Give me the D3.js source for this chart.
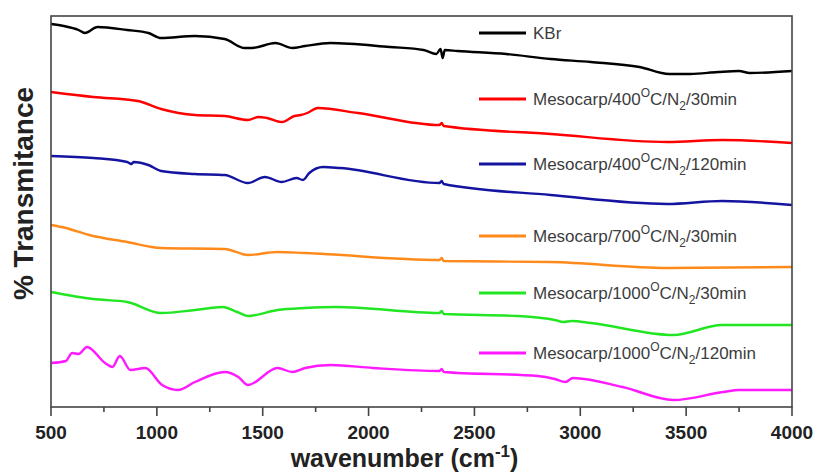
<!DOCTYPE html>
<html lang="en">
<head>
    <meta charset="UTF-8">
    <style>
        body { margin: 0; background: #fff; }
        #chart { width: 818px; height: 473px; }
        .tick-label { font-family: "Liberation Sans", Arial, sans-serif; font-weight: bold; font-size: 19px; fill: #222; }
        .axis-title { font-family: "Liberation Sans", Arial, sans-serif; font-weight: bold; fill: #222; }
        .legend-text { font-family: "Liberation Sans", Arial, sans-serif; font-size: 17px; fill: #3c3c3c; }
    </style>
    <script src="https://d3js.org/d3.v7.min.js"></script>
</head>
<body>
    <div id="chart"></div>

    <script>
        // FTIR spectra, [wavenumber, transmittance (a.u., stacked)]
        var kbr = [[500,383],[560,381],[630,377],[660,374],[720,380],[860,377],[960,374],[1020,369],[1180,371],[1320,368],[1415,359],[1450,359],[1560,364],[1640,359],[1700,361],[1820,364],[2100,360],[2260,357],[2320,353],[2340,358],[2350,349],[2360,357],[2420,356],[2650,353],[2860,348],[3050,345],[3280,340],[3420,333],[3520,333],[3650,335],[3750,336],[3800,334],[4000,336]];
        var meso400_30 = [[500,315],[700,310],[910,306],[1020,298],[1180,292],[1320,291],[1430,287],[1480,290],[1520,289],[1590,285],[1650,291],[1680,292],[1710,294],[1760,299],[1950,294],[2335,282],[2345,284],[2355,281],[2860,273],[3410,265],[3670,267],[4000,264]];
        var meso400_120 = [[500,251],[700,249],[860,245],[880,243],[890,245],[960,242],[1020,236],[1180,233],[1320,232],[1430,224],[1510,230],[1590,225],[1660,229],[1690,227],[1720,234],[1785,240],[1865,239],[2335,224],[2345,226],[2355,223],[2860,212],[3410,203],[3670,206],[4000,202]];
        var meso700_30 = [[500,182],[570,179],[680,172],[860,165],[1020,159],[1320,158],[1430,152],[1570,155],[1700,154],[2335,147],[2345,149],[2355,146],[2860,145],[3410,139],[4000,140]];
        var meso1000_30 = [[500,115],[700,108],[860,105],[1020,94],[1180,97],[1310,100],[1380,95],[1430,91],[1570,97],[1700,99],[1850,100],[2335,94],[2345,96],[2355,93],[2700,91],[2880,87],[2920,85],[2960,86],[3050,84],[3440,72],[3670,82],[4000,82]];
        var meso1000_120 = [[500,44],[570,46],[600,54],[630,53],[670,60],[755,44],[790,40],[825,51],[875,37],[945,39],[1025,22],[1100,17],[1180,25],[1320,35],[1385,30],[1430,22],[1570,39],[1640,35],[1700,39],[1820,42],[2020,39],[2335,36],[2345,38],[2355,35],[2800,31],[2880,28],[2930,25],[2965,29],[3200,20],[3440,7],[3675,15],[3750,17],[3835,17],[4000,17]];

        var spectra = [kbr, meso400_30, meso400_120, meso700_30, meso1000_30, meso1000_120];
        // legend labels: ^{..} superscript, _{..} subscript
        var legendLabels = ["KBr", "Mesocarp/400^{O}C/N_{2}/30min", "Mesocarp/400^{O}C/N_{2}/120min",
            "Mesocarp/700^{O}C/N_{2}/30min", "Mesocarp/1000^{O}C/N_{2}/30min", "Mesocarp/1000^{O}C/N_{2}/120min"];
        var colors = ["#000000", "#ff0000", "#1414a0", "#ff8a1c", "#22e622", "#ff19ff"];
        var xTicks = [500, 1000, 1500, 2000, 2500, 3000, 3500, 4000];
        var xMinor = [750, 1250, 1750, 2250, 2750, 3250, 3750];

        var margin = { top: 16, right: 26, bottom: 66, left: 51 };
        var width = 818 - margin.left - margin.right;
        var height = 473 - margin.top - margin.bottom;

        var svg = d3.select("#chart").append("svg")
            .attr("width", 818).attr("height", 473);
        var g = svg.append("g")
            .attr("transform", "translate(" + margin.left + "," + margin.top + ")");

        var x = d3.scaleLinear().domain([500, 4000]).range([0, width]);
        var y = d3.scaleLinear().domain([0, 391]).range([height, 0]);

        // spectra
        var line = d3.line()
            .x(d => x(d[0]))
            .y(d => y(d[1]))
            .curve(d3.curveMonotoneX);

        g.selectAll(".spec")
            .data(spectra)
            .enter().append("path")
            .attr("class", "spec")
            .attr("d", line)
            .attr("fill", "none")
            .attr("stroke", (d, i) => colors[i])
            .attr("stroke-width", 2.4)
            .attr("stroke-linejoin", "round");

        // frame
        g.append("rect")
            .attr("width", width).attr("height", height)
            .attr("fill", "none").attr("stroke", "#444").attr("stroke-width", 1.6);

        // x axis ticks
        var xAxis = g.append("g").attr("transform", "translate(0," + height + ")");
        xAxis.selectAll(".major").data(xTicks).enter().append("line")
            .attr("x1", d => x(d)).attr("x2", d => x(d))
            .attr("y1", 0).attr("y2", 9)
            .attr("stroke", "#444").attr("stroke-width", 1.6);
        xAxis.selectAll(".minor").data(xMinor).enter().append("line")
            .attr("x1", d => x(d)).attr("x2", d => x(d))
            .attr("y1", 0).attr("y2", 5)
            .attr("stroke", "#444").attr("stroke-width", 1.6);
        xAxis.selectAll(".tick-label").data(xTicks).enter().append("text")
            .attr("class", "tick-label")
            .attr("x", d => x(d)).attr("y", 32)
            .attr("text-anchor", "middle")
            .text(d => d);

        // axis titles
        var xt = svg.append("text")
            .attr("class", "axis-title")
            .attr("x", margin.left + width / 2 - 17)
            .attr("y", 467)
            .attr("text-anchor", "middle")
            .style("font-size", "25px");
        xt.append("tspan").text("wavenumber (cm");
        xt.append("tspan").attr("dy", -10).style("font-size", "17px").text("-1");
        xt.append("tspan").attr("dy", 10).text(")");

        svg.append("text")
            .attr("class", "axis-title")
            .attr("transform", "translate(33," + (margin.top + height / 2 - 18) + ") rotate(-90)")
            .attr("text-anchor", "middle")
            .style("font-size", "28px")
            .text("% Transmitance");

        // legend
        var legendY = [33, 99, 164, 236, 293, 353];
        var legend = svg.selectAll(".legend")
            .data(legendLabels)
            .enter().append("g")
            .attr("class", "legend")
            .attr("transform", (d, i) => "translate(479," + legendY[i] + ")");

        legend.append("line")
            .attr("x1", 0).attr("x2", 47)
            .attr("stroke", (d, i) => colors[i])
            .attr("stroke-width", 3);

        legend.append("text")
            .attr("class", "legend-text")
            .attr("x", 54).attr("y", 6)
            .each(function(label) {
                var t = d3.select(this);
                var parts = label.split(/(\^\{[^}]*\}|_\{[^}]*\})/).filter(s => s.length);
                var shift = 0;
                parts.forEach(function(p) {
                    var target = 0, txt = p, small = false;
                    if (p[0] === "^") { target = -8; txt = p.slice(2, -1); small = true; }
                    else if (p[0] === "_") { target = 5; txt = p.slice(2, -1); small = true; }
                    var ts = t.append("tspan").attr("dy", target - shift).text(txt);
                    if (small) ts.style("font-size", "12px");
                    shift = target;
                });
            });
    </script>
</body>
</html>
